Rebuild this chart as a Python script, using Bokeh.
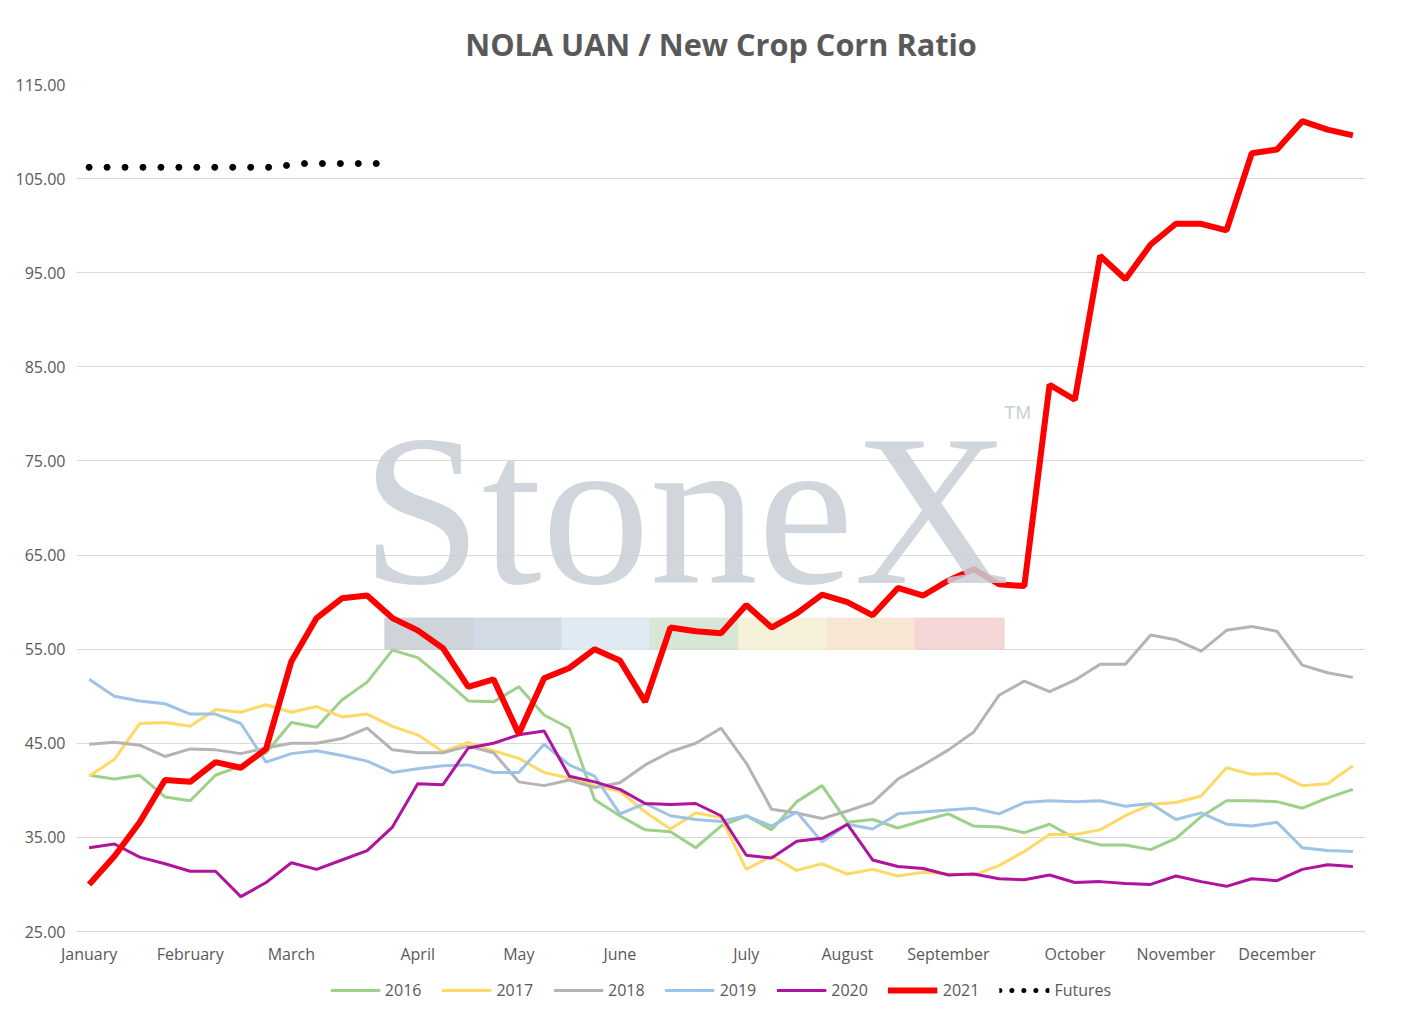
from bokeh.plotting import figure
from bokeh.layouts import column
from bokeh.models import Legend, FixedTicker, NumeralTickFormatter, Label, Range1d
from bokeh.embed import file_html
from bokeh.resources import INLINE

months = ["January", "February", "March", "April", "May", "June", "July",
          "August", "September", "October", "November", "December"]
month_weeks = [0, 4, 8, 13, 17, 21, 26, 30, 34, 39, 43, 47]
weeks = list(range(51))

y2016 = [41.6, 41.2, 41.6, 39.3, 38.9, 41.6, 42.6, 44.0, 47.2, 46.7, 49.6, 51.5, 54.9, 54.1, 51.9, 49.5, 49.4,
         51.0, 48.0, 46.6, 39.0, 37.3, 35.8, 35.6, 33.9, 36.2, 37.3, 35.8, 38.8, 40.5, 36.6, 36.9, 36.0, 36.8,
         37.5, 36.2, 36.1, 35.5, 36.4, 34.9, 34.2, 34.2, 33.7, 34.9, 37.2, 38.9, 38.9, 38.8, 38.1, 39.2, 40.1]
y2017 = [41.5, 43.3, 47.1, 47.2, 46.8, 48.6, 48.3, 49.1, 48.3, 48.9, 47.8, 48.1, 46.8, 45.9, 44.1, 45.1, 44.2,
         43.4, 41.9, 41.3, 40.5, 39.9, 37.7, 35.9, 37.6, 37.1, 31.6, 33.0, 31.5, 32.2, 31.1, 31.6, 30.9, 31.3,
         31.1, 31.0, 32.0, 33.5, 35.3, 35.3, 35.8, 37.3, 38.5, 38.7, 39.4, 42.4, 41.7, 41.8, 40.5, 40.7, 42.6]
y2018 = [44.9, 45.1, 44.8, 43.6, 44.4, 44.3, 43.9, 44.5, 45.0, 45.0, 45.5, 46.6, 44.3, 44.0, 44.0, 44.7, 44.0,
         40.9, 40.5, 41.1, 40.3, 40.8, 42.7, 44.1, 45.0, 46.6, 42.9, 38.0, 37.6, 37.0, 37.8, 38.7, 41.2, 42.7,
         44.3, 46.2, 50.1, 51.6, 50.5, 51.7, 53.4, 53.4, 56.5, 56.0, 54.8, 57.0, 57.4, 56.9, 53.3, 52.5, 52.0]
y2019 = [51.8, 50.0, 49.5, 49.2, 48.1, 48.1, 47.1, 43.0, 43.9, 44.2, 43.7, 43.1, 41.9, 42.3, 42.6, 42.7, 41.9,
         41.9, 44.9, 42.7, 41.5, 37.5, 38.6, 37.3, 36.9, 36.7, 37.3, 36.2, 37.7, 34.5, 36.4, 35.9, 37.5, 37.7,
         37.9, 38.1, 37.5, 38.7, 38.9, 38.8, 38.9, 38.3, 38.6, 36.9, 37.6, 36.4, 36.2, 36.6, 33.9, 33.6, 33.5]
y2020 = [33.9, 34.3, 32.9, 32.2, 31.4, 31.4, 28.7, 30.2, 32.3, 31.6, 32.6, 33.6, 36.1, 40.7, 40.6, 44.5, 45.0,
         45.9, 46.3, 41.5, 40.9, 40.1, 38.6, 38.5, 38.6, 37.3, 33.1, 32.8, 34.6, 34.9, 36.4, 32.6, 31.9, 31.7,
         31.0, 31.1, 30.6, 30.5, 31.0, 30.2, 30.3, 30.1, 30.0, 30.9, 30.3, 29.8, 30.6, 30.4, 31.6, 32.1, 31.9]
y2021 = [30.0, 33.0, 36.6, 41.1, 40.9, 43.0, 42.4, 44.4, 53.7, 58.3, 60.4, 60.7, 58.3, 57.0, 55.1, 51.0, 51.8,
         46.0, 51.9, 53.0, 55.0, 53.8, 49.4, 57.3, 56.9, 56.7, 59.7, 57.3, 58.8, 60.8, 60.0, 58.6, 61.5, 60.7,
         62.3, 63.5, 61.9, 61.7, 83.1, 81.5, 96.8, 94.3, 98.0, 100.2, 100.2, 99.5, 107.7, 108.1, 111.1, 110.2, 109.6]
futures_x = [0.0, 0.71, 1.42, 2.13, 2.84, 3.55, 4.26, 4.97, 5.68, 6.39, 7.1, 7.81, 8.52, 9.23, 9.94, 10.65, 11.36]
futures = [106.2] * 11 + [106.4, 106.6, 106.6, 106.6, 106.6, 106.6]

series = [("2016", y2016, "#9dd18a"), ("2017", y2017, "#ffd966"), ("2018", y2018, "#b4b4b4"),
          ("2019", y2019, "#9dc3e6"), ("2020", y2020, "#b0139c")]

p = figure(frame_width=1289, frame_height=847, output_backend="svg", toolbar_location=None,
           x_range=Range1d(-0.5, 50.5), y_range=Range1d(25, 115),
           title="NOLA UAN / New Crop Corn Ratio",
           outline_line_color=None, min_border_left=76, min_border_right=40,
           min_border_top=38, min_border_bottom=5)
p.title.align = "center"
p.title.text_font = "Open Sans"
p.title.text_font_size = "23pt"
p.title.text_font_style = "bold"
p.title.text_color = "#595959"
p.title.standoff = 40

# watermark
p.add_layout(Label(x=23.6, y=69.7, text="StoneX", text_align="center", text_font="Liberation Serif",
                   text_font_size="162pt", text_color="#c8cfd6", text_alpha=0.85,
                   text_baseline="alphabetic"))
p.add_layout(Label(x=36.2, y=79, text="TM", text_font="Liberation Sans",
                   text_font_size="14pt", text_color="#c8cfd6"))
wm_colors = ["#c9cfd6", "#cdd7e2", "#dbe8f2", "#d3e4d0", "#f5efd5", "#f6e3cc", "#f3d2d2"]
for i, c in enumerate(wm_colors):
    p.quad(left=11.7 + i * 3.5, right=15.2 + i * 3.5, bottom=55, top=58.3, color=c, alpha=0.9)

for name, ys, col in series:
    p.line(weeks, ys, line_color=col, line_width=3)
p.line(weeks, y2021, line_color="#ff0000", line_width=6)
p.scatter(futures_x, futures, size=6, color="black")

p.yaxis.ticker = FixedTicker(ticks=[25, 35, 45, 55, 65, 75, 85, 95, 105, 115])
p.yaxis.formatter = NumeralTickFormatter(format="0.00")
p.yaxis.axis_line_color = None
p.yaxis.major_tick_line_color = None
p.yaxis.minor_tick_line_color = None
p.xaxis.ticker = FixedTicker(ticks=month_weeks)
p.xaxis.major_label_overrides = {w: m for w, m in zip(month_weeks, months)}
p.xaxis.major_tick_line_color = None
p.xaxis.minor_tick_line_color = None
p.xaxis.axis_line_color = "#d9d9d9"
for ax in (p.xaxis, p.yaxis):
    ax.major_label_text_font = "Open Sans"
    ax.major_label_text_font_size = "12pt"
    ax.major_label_text_color = "#595959"
p.xgrid.grid_line_color = None
p.ygrid.grid_line_color = "#d9d9d9"

# legend strip (dummy renderers sit outside the visible range)
lg = figure(width=1405, height=45, output_backend="svg", toolbar_location=None,
            x_range=Range1d(0, 1), y_range=Range1d(0, 1), outline_line_color=None,
            min_border=0)
lg.axis.visible = False
lg.grid.visible = False
off = [5, 6]
items = []
for name, ys, col in series:
    items.append((name, [lg.line(off, off, line_color=col, line_width=3)]))
items.append(("2021", [lg.line(off, off, line_color="#ff0000", line_width=6)]))
items.append(("Futures", [lg.line(off, off, line_color="black", line_width=5,
                                  line_dash="0 12", line_cap="round")]))
legend = Legend(items=items, orientation="horizontal", location="center",
                label_text_font="Open Sans", label_text_font_size="12pt",
                label_text_color="#595959", border_line_color=None, background_fill_alpha=0,
                glyph_width=50, spacing=20, margin=0, padding=4)
lg.add_layout(legend, "center")

open("out.html", "w").write(file_html(column(p, lg, spacing=0), INLINE))
